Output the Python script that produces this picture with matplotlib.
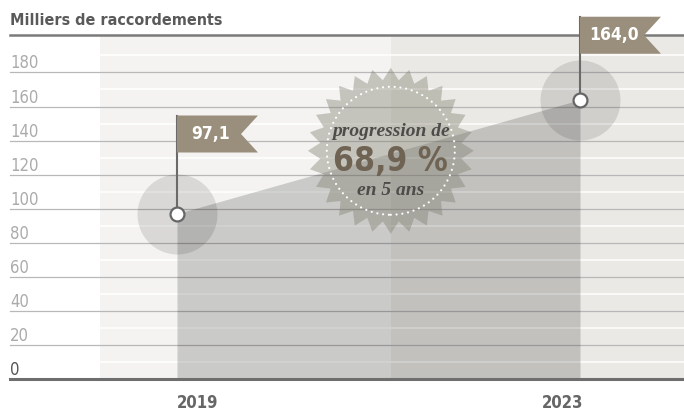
import numpy as np
import matplotlib.pyplot as plt
from matplotlib.patches import Polygon, Ellipse

# data
years = [2019, 2023]
values = [97.1, 164.0]
value_labels = ["97,1", "164,0"]
yticks = [0, 20, 40, 60, 80, 100, 120, 140, 160, 180]
title = "Milliers de raccordements"
badge_lines = ["progression de", "68,9 %", "en 5 ans"]

NARROW = dict(family="DejaVu Sans", stretch="condensed")
SERIF = dict(family=["Liberation Serif", "DejaVu Serif"])

W, H = 684, 415
# pixel layout: 2019 at x=177, 2023 at x=580, value 0 at y=379, 1.703 px per unit
X0, X_PER_YEAR = 177, (580 - 177) / 4
Y0, Y_PER_UNIT = 379, 1.703


def px_x(p):
    return years[0] + (p - X0) / X_PER_YEAR


def px_y(p):
    return (Y0 - p) / Y_PER_UNIT


fig = plt.figure(figsize=(W / 100, H / 100), dpi=100)
ax = fig.add_axes([0, 0, 1, 1])
ax.set_xlim(px_x(0), px_x(W))
ax.set_ylim(px_y(H), px_y(0))
ax.axis("off")

top = px_y(35)

# background panels
ax.fill_between([px_x(100), px_x(391)], 0, top, color="#f4f3f1", lw=0, zorder=0)
ax.fill_between([px_x(391), px_x(W)], 0, top, color="#eae9e5", lw=0, zorder=0)

# white half-step lines and grey grid lines
for v in range(10, 200, 20):
    ax.plot([px_x(100), px_x(W)], [v, v], color="white", lw=1.1, zorder=1)
for v in yticks[1:]:
    ax.plot([px_x(10), px_x(W)], [v, v], color="#b8b8b8", lw=0.9, zorder=1)

# area under the progression
ax.fill_between(years, 0, values, color="black", alpha=0.17, lw=0, zorder=2)

# halo around each point
ax.scatter(years, values, s=(80 * 0.72) ** 2, color="black", alpha=0.11, lw=0, zorder=3)

# starburst badge
cx, cy = 390.8, 150.8
n = 28
ang = np.linspace(0, 2 * np.pi, 2 * n, endpoint=False) + np.pi / 2
rad = np.where(np.arange(2 * n) % 2 == 0, 83, 71)
star = np.column_stack([px_x(cx + rad * np.cos(ang)), px_y(cy - rad * np.sin(ang))])
ax.add_patch(Polygon(star, closed=True, color="#807e6e", alpha=0.4, lw=0, zorder=4))
ring = Ellipse((px_x(cx), px_y(cy)), 2 * 64 / X_PER_YEAR, 2 * 64 / Y_PER_UNIT,
               fill=False, edgecolor="white", lw=1.6, linestyle=(0, (0.01, 2.6)),
               capstyle="round", zorder=5)
ax.add_patch(ring)
ax.text(px_x(cx), px_y(131), badge_lines[0], **SERIF, style="italic",
        weight="bold", fontsize=14, color="#4d4c49", ha="center", va="center", zorder=6)
ax.text(px_x(cx), px_y(161), badge_lines[1], **NARROW, weight="bold",
        fontsize=24, color="#6f6454", ha="center", va="center", zorder=6)
ax.text(px_x(cx), px_y(190), badge_lines[2], **SERIF, style="italic",
        weight="bold", fontsize=14, color="#4d4c49", ha="center", va="center", zorder=6)

# frame lines
ax.plot([px_x(10), px_x(W)], [top, top], color="#7a7a7a", lw=1.8, zorder=10)
ax.plot([px_x(10), px_x(W)], [0, 0], color="#6e6e6e", lw=2.2, zorder=10)

# flags with value labels
flag_bottom = [133, 191]
flag_h, flag_w, notch = 37 / Y_PER_UNIT, 81 / X_PER_YEAR, 17 / X_PER_YEAR
for yr, val, lab, fb in zip(years, values, value_labels, flag_bottom):
    ax.plot([yr, yr], [val, fb + flag_h], color="#6a6a6a", lw=1.5, zorder=11)
    flag = [(yr, fb), (yr + flag_w, fb), (yr + flag_w - notch, fb + flag_h / 2),
            (yr + flag_w, fb + flag_h), (yr, fb + flag_h)]
    ax.add_patch(Polygon(flag, closed=True, color="#9a8e7c", lw=0, zorder=11))
    ax.text(yr + 34 / X_PER_YEAR, fb + flag_h / 2, lab, **NARROW, weight="bold",
            fontsize=12.5, color="white", ha="center", va="center", zorder=12)

ax.plot(years, values, ls="none", marker="o", ms=10, mfc="white", mec="#666666",
        mew=1.6, zorder=12)

# y labels
for v in yticks:
    ax.text(px_x(10), v + 4 / Y_PER_UNIT, str(v), **NARROW, fontsize=12,
            color="#555555" if v == 0 else "#ababab", ha="left", va="baseline", zorder=10)

# year labels
ax.text(years[0], px_y(408), str(years[0]), **NARROW, weight="bold", fontsize=12,
        color="#666666", ha="left", va="baseline")
ax.text(years[1] + 3 / X_PER_YEAR, px_y(408), str(years[1]), **NARROW, weight="bold",
        fontsize=12, color="#666666", ha="right", va="baseline")

fig.text(10 / W, 1 - 25 / H, title, **NARROW, weight="bold", fontsize=11.5,
         color="#5a5a5a", ha="left", va="baseline")

fig.savefig("out.png", dpi=100)
